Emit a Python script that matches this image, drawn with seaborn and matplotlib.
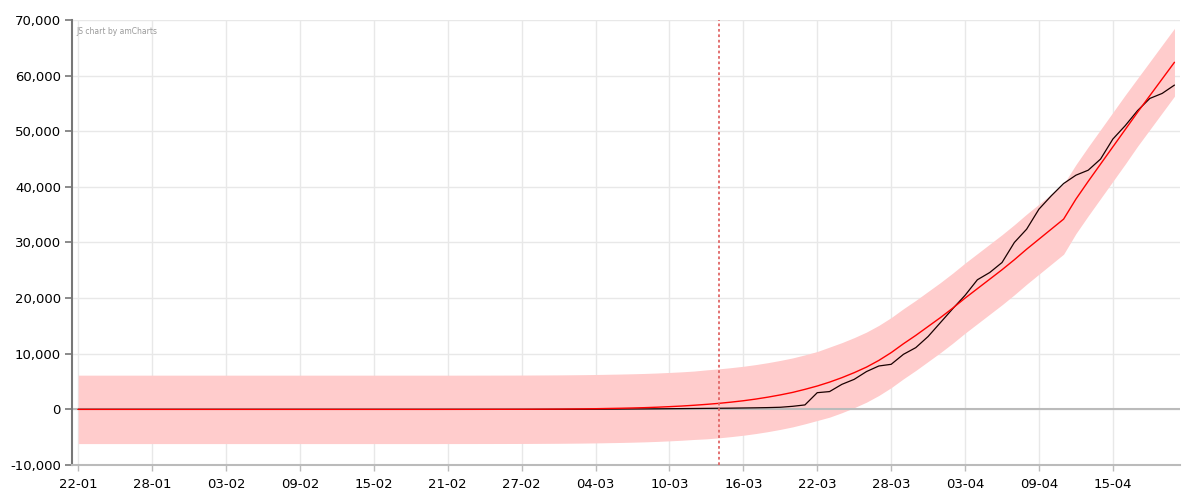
import matplotlib
matplotlib.use("Agg")
import matplotlib.pyplot as plt
import matplotlib.dates as mdates
from matplotlib.ticker import FuncFormatter
import numpy as np
import pandas as pd
import seaborn as sns

# one value per day, 22-01-2020 .. 20-04-2020
start_date = "2020-01-22"
n_days = 90
marker_date = "2020-03-14"

actual = [0] * 38 + [
    5, 10, 15, 20, 30, 40, 55, 70, 85, 100,
    120, 140, 160, 180, 200, 220, 250, 280, 320, 380,
    550, 800, 3000, 3200, 4500, 5400, 6800, 7800, 8100, 9900,
    11100, 13100, 15600, 18100, 20500, 23300, 24600, 26400, 30000, 32400,
    36000, 38400, 40600, 42100, 43000, 45000, 48600, 51000, 53700, 55900,
    56800, 58300,
]

model = [0] * 30 + [
    2, 4, 6, 9, 12, 15, 20, 30, 40, 50,
    70, 90, 120, 160, 200, 250, 310, 390, 490, 600,
    740, 900, 1080, 1300, 1550, 1850, 2200, 2600, 3050, 3600,
    4200, 4900, 5700, 6600, 7600, 8800, 10200, 11800, 13300, 14900,
    16500, 18200, 20000, 21700, 23400, 25100, 26900, 28800, 30600, 32400,
    34200, 37800, 41000, 44100, 47200, 50300, 53400, 56400, 59400, 62400,
]

band_half = [6150] * 51 + [6200] * 10 + [6300] * 20 + [6200] * 5 + [6100] * 4

y_ticks = [-10000, 0, 10000, 20000, 30000, 40000, 50000, 60000, 70000]

dates = pd.date_range(start_date, periods=n_days, freq="D")
df = pd.DataFrame({"date": dates, "actual": actual, "model": model})
lower = np.array(model) - np.array(band_half)
upper = np.array(model) + np.array(band_half)

sns.set_theme(style="white")
plt.rcParams["font.family"] = ["DejaVu Sans"]

fig = plt.figure(figsize=(12, 5), dpi=100)
ax = fig.add_axes([0.06, 0.07, 0.923, 0.89])

ax.fill_between(df["date"], lower, upper, color="#ffcccc", linewidth=0, zorder=1)
ax.axhline(0, color="#bbbbbb", linewidth=1.5, zorder=2)
sns.lineplot(data=df, x="date", y="actual", color="#1a0000", linewidth=0.9, ax=ax, zorder=3)
sns.lineplot(data=df, x="date", y="model", color="#ff0000", linewidth=1.0, ax=ax, zorder=4)
ax.axvline(pd.Timestamp(marker_date), color="#e06666", linestyle=(0, (1.5, 1.5)),
           linewidth=1.3, zorder=5)

ax.set_xlim(dates[0] - pd.Timedelta(hours=12), dates[-1] + pd.Timedelta(hours=10))
ax.set_ylim(-10000, 70000)
ax.set_yticks(y_ticks)
ax.yaxis.set_major_formatter(FuncFormatter(lambda v, p: f"{int(v):,}"))
ax.set_xticks(dates[::6][:15])
ax.xaxis.set_major_formatter(mdates.DateFormatter("%d-%m"))

ax.grid(True, color="#e8e8e8", linewidth=1.0, zorder=0)
ax.set_axisbelow(True)
ax.set_xlabel("")
ax.set_ylabel("")

for side in ["top", "right"]:
    ax.spines[side].set_visible(False)
ax.spines["left"].set_color("#777777")
ax.spines["left"].set_linewidth(1.5)
ax.spines["bottom"].set_color("#bbbbbb")
ax.spines["bottom"].set_linewidth(1.5)

ax.tick_params(axis="y", left=True, length=5, width=1.2, color="#777777",
               labelsize=9.5, labelcolor="#000000", pad=3)
ax.tick_params(axis="x", bottom=True, length=4, width=1.0, color="#bbbbbb",
               labelsize=9.5, labelcolor="#000000", pad=5)

ax.text(0.004, 0.985, "JS chart by amCharts", transform=ax.transAxes,
        fontsize=5.5, color="#999999", va="top", ha="left")

fig.savefig("out.png", dpi=100)
plt.close(fig)
